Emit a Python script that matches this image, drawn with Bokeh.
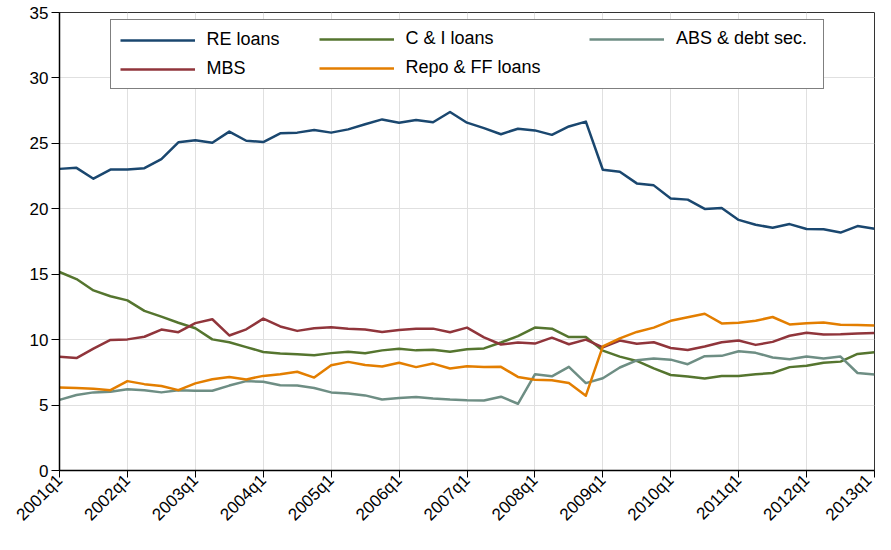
from bokeh.plotting import figure
from bokeh.models import Range1d, FixedTicker, Legend, LegendItem
from bokeh.embed import file_html
from bokeh.resources import INLINE
import math

# ---- data ----
quarters = [f"{y}q{q}" for y in range(2001, 2013) for q in range(1, 5)] + ["2013q1"]
tick_labels = ["2001q1", "2002q1", "2003q1", "2004q1", "2005q1", "2006q1", "2007q1",
               "2008q1", "2009q1", "2010q1", "2011q1", "2012q1", "2013q1"]
y_ticks = [0, 5, 10, 15, 20, 25, 30, 35]

re_loans = [23.05, 23.13, 22.3, 23.0, 23.0, 23.1, 23.8, 25.08, 25.23, 25.05, 25.9, 25.2,
            25.1, 25.77, 25.82, 26.02, 25.82, 26.07, 26.46, 26.83, 26.58, 26.78, 26.61, 27.4,
            26.58, 26.16, 25.7, 26.12, 25.99, 25.65, 26.29, 26.66, 22.98, 22.83, 21.94, 21.79,
            20.78, 20.7, 19.99, 20.06, 19.15, 18.78, 18.55, 18.83, 18.46, 18.43, 18.18, 18.68,
            18.48]
ci_loans = [15.17, 14.63, 13.76, 13.32, 13.0, 12.2, 11.76, 11.29, 10.87, 10.02, 9.8, 9.43,
            9.06, 8.94, 8.89, 8.81, 8.97, 9.08, 8.96, 9.18, 9.31, 9.18, 9.23, 9.08,
            9.26, 9.33, 9.78, 10.27, 10.92, 10.84, 10.2, 10.2, 9.16, 8.7, 8.37, 7.8,
            7.3, 7.18, 7.03, 7.23, 7.23, 7.35, 7.45, 7.9, 8.0, 8.24, 8.32, 8.91,
            9.03]
abs_debt = [5.4, 5.77, 5.97, 6.01, 6.21, 6.14, 5.97, 6.14, 6.09, 6.09, 6.49, 6.83,
            6.78, 6.51, 6.49, 6.31, 5.97, 5.89, 5.74, 5.42, 5.54, 5.62, 5.5, 5.42,
            5.37, 5.35, 5.64, 5.1, 7.35, 7.2, 7.92, 6.68, 7.05, 7.87, 8.42, 8.56,
            8.47, 8.12, 8.74, 8.76, 9.11, 8.99, 8.64, 8.51, 8.71, 8.56, 8.71, 7.45,
            7.33]
mbs = [8.69, 8.59, 9.31, 9.98, 10.02, 10.22, 10.77, 10.57, 11.26, 11.56, 10.32, 10.79,
       11.61, 11.01, 10.67, 10.87, 10.95, 10.84, 10.77, 10.59, 10.74, 10.84, 10.84, 10.57,
       10.92, 10.17, 9.63, 9.78, 9.7, 10.15, 9.65, 10.0, 9.41, 9.93, 9.68, 9.8,
       9.36, 9.21, 9.48, 9.8, 9.93, 9.6, 9.83, 10.3, 10.52, 10.4, 10.42, 10.47,
       10.5]
repo_ff = [6.34, 6.31, 6.24, 6.14, 6.83, 6.6, 6.46, 6.14, 6.66, 6.98, 7.15, 6.96,
           7.23, 7.35, 7.55, 7.1, 8.04, 8.3, 8.07, 7.95, 8.24, 7.9, 8.17, 7.8,
           7.97, 7.9, 7.92, 7.15, 6.93, 6.9, 6.68, 5.72, 9.48, 10.1, 10.59, 10.92,
           11.44, 11.71, 11.98, 11.24, 11.29, 11.44, 11.73, 11.16, 11.26, 11.31, 11.14, 11.11,
           11.09]

series_names = ["RE loans", "C & I loans", "ABS & debt sec.", "MBS", "Repo & FF loans"]
series_values = [re_loans, ci_loans, abs_debt, mbs, repo_ff]
series_colors = ["#1a476f", "#55752f", "#6e8e84", "#90353b", "#e37e00"]

x = list(range(len(quarters)))
FONT = "Liberation Sans"

BL, BR, BT, BB = 59, 1, 12, 56
W, H = 875, 534
FW = W - BL - BR   # frame width

p = figure(width=W, height=H, output_backend="svg", toolbar_location=None,
           x_range=Range1d(0, len(quarters) - 1), y_range=Range1d(0, 35),
           min_border_left=BL, min_border_right=BR, min_border_top=BT, min_border_bottom=BB,
           background_fill_color="white", border_fill_color="white")

p.outline_line_color = "#333333"
p.outline_line_width = 1

items = {}
for name, vals, col in zip(series_names, series_values, series_colors):
    r = p.line(x, vals, line_color=col, line_width=2.5, line_join="round")
    items[name] = LegendItem(label=name, renderers=[r])

# axes
p.xaxis.ticker = FixedTicker(ticks=[quarters.index(t) for t in tick_labels])
p.xaxis.major_label_overrides = {quarters.index(t): t for t in tick_labels}
p.xaxis.major_label_orientation = math.pi / 4
p.yaxis.ticker = FixedTicker(ticks=y_ticks)

for ax in (p.xaxis[0], p.yaxis[0]):
    ax.axis_line_color = "black"
    ax.axis_line_width = 1.5
    ax.major_tick_line_color = "black"
    ax.major_tick_line_width = 1
    ax.major_tick_in = 0
    ax.minor_tick_line_color = None
    ax.major_label_text_font = FONT
    ax.major_label_text_font_size = "17px"
    ax.major_label_text_color = "black"
p.yaxis.major_tick_out = 8
p.xaxis.major_tick_out = 7
p.yaxis.major_label_standoff = 3
p.xaxis.major_label_standoff = 0

p.grid.grid_line_color = "#e0e0e0"
p.grid.grid_line_width = 1

# legend: a bordered box (first column) plus two columns with invisible borders,
# all anchored at the top of the frame
PAD, GH, SP, GW, STAND = 9, 20, 8, 75, 12
MARGIN = 7
fixed = 2 * PAD + GW + STAND
common = dict(label_text_font=FONT, label_text_font_size="18px", label_text_color="black",
              glyph_width=GW, glyph_height=GH, label_height=GH, label_standoff=STAND,
              spacing=SP, padding=PAD, margin=MARGIN, orientation="vertical",
              border_line_width=1)

box_gap = 51.3                   # gap between frame sides and legend box
col2_left = 318.3 - BL - PAD     # left of 2nd column, from frame left
col3_left = 589.3 - BL - PAD     # left of 3rd column, from frame left

lw1 = int(round(FW - 2 * box_gap - fixed))
lw2 = int(round(2 * (FW / 2 - col2_left) - fixed))
lw3 = int(round(FW - MARGIN - col3_left - fixed))

leg1 = Legend(items=[items["RE loans"], items["MBS"]], location="top_center",
              label_width=lw1, border_line_color="black",
              background_fill_color="white", background_fill_alpha=1, **common)
leg2 = Legend(items=[items["C & I loans"], items["Repo & FF loans"]], location="top_center",
              label_width=lw2, border_line_color="white", border_line_alpha=0,
              background_fill_alpha=0, **common)
leg3 = Legend(items=[items["ABS & debt sec."]], location="top_right",
              label_width=lw3, border_line_color="white", border_line_alpha=0,
              background_fill_alpha=0, **common)
p.add_layout(leg1)
p.add_layout(leg2)
p.add_layout(leg3)

open("out.html", "w").write(file_html(p, INLINE))
